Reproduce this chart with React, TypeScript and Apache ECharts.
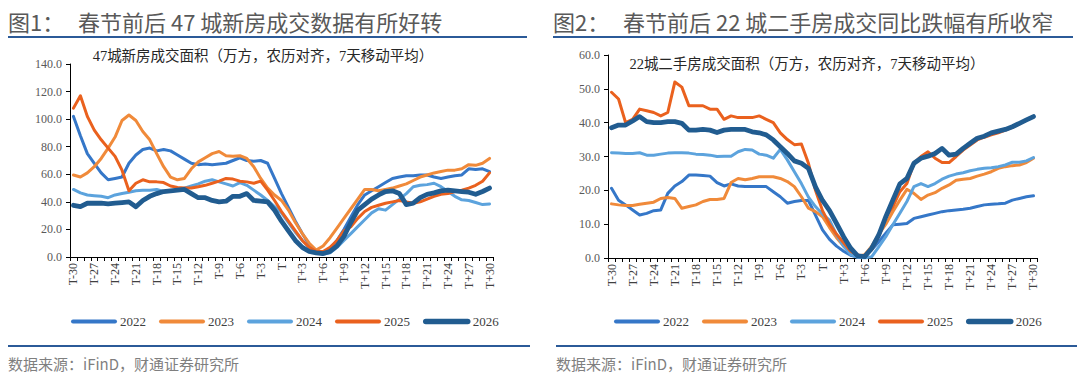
import React, { useEffect, useRef } from "react";
import * as echarts from "echarts";

const categories = [
  "T-30","T-29","T-28","T-27","T-26","T-25","T-24","T-23","T-22","T-21",
  "T-20","T-19","T-18","T-17","T-16","T-15","T-14","T-13","T-12","T-11",
  "T-10","T-9","T-8","T-7","T-6","T-5","T-4","T-3","T-2","T-1",
  "T","T+1","T+2","T+3","T+4","T+5","T+6","T+7","T+8","T+9",
  "T+10","T+11","T+12","T+13","T+14","T+15","T+16","T+17","T+18","T+19",
  "T+20","T+21","T+22","T+23","T+24","T+25","T+26","T+27","T+28","T+29","T+30",
];

const years = ["2022", "2023", "2024", "2025", "2026"];
const colors = ["#3577C8", "#F08A3A", "#5CA3DD", "#EA611E", "#215C90"];
const widths = [3, 3, 3, 3, 4.8];

// Left: 47 cities new house transaction area
const new2022 = [102,88,75,68,61,56,57,58,68,74,78,79,77,78,77,74,71,68,67,67.5,67,67.5,68,70,72,70,69.5,70,68,57,46,36,26,17,9,4,3,6,12,20,29,38,45,48,51,54,57,58,59,59,59.5,59.5,58,57,58,59,59.5,64,63.5,64,62];
const new2023 = [59.5,58,61,65.5,71.5,79,87,99,103,99,91,85,75,65.5,58,56,57,64,69,72,75,76.5,73.5,73,73.5,71.5,65.5,57,50,45,41,34,25,17,10,5,8,14,21,28,35,42,49,49,48,49,50,51.5,53,55.5,58,59.5,61,62,63,63,64,67,66.5,68,71.5];
const new2024 = [49,46.5,45,44.5,44,43,45,46,47,48,48.5,48.5,49,47.5,48,48.5,50,51.5,53,55,56,54.5,53,51.5,54,52,48.5,45,41,36.5,32,25,18,12,7,3.5,2,3,7,12,17,22,27,32,35,34,38,42,46,51,52,52.5,53.5,51,47.5,44,41.5,41,39.5,38,38.5];
const new2025 = [108,117,102,92,85,79,73,63,48,53.5,56,54.5,54.5,54,51.5,50.5,50,50,51,52,53.5,55,57,56.5,55,54.5,53.5,55,48.5,41,33,26,19,12,7,4,4,7,12,19,22,28,33,36,37.5,39,40,41,40,39,40,42,44,45.5,46,47.5,48.5,50,52,55,61];
const new2026 = [37.5,36.5,39,39,39,38.5,39,39.5,40,36.5,41,44,46,47.5,48,48.5,49,46,43,43,41,40,40.5,44,44,46,41,40.5,40,34,26,19,12,7,4,3,2.5,4,8,15,25,34,38,42,45,47.5,48,46,38,39,43,45.5,46.5,48,48.5,48,47.5,47,45.5,47.5,50];

// Right: 22 cities second-hand house transaction area
const used2022 = [20.6,17.1,15.7,14.2,12.7,13.2,14,14.2,19.1,21.3,22.6,24.5,24.5,24.4,24.2,22.3,21.3,21.9,21.3,21.1,21.1,21.1,21.1,19.6,18.1,16.2,16.7,17,17,12.7,8.3,5.5,3.5,2,0.8,0.3,0.5,2.4,4.8,7.3,9.8,10,10.2,11.7,12.2,12.7,13.2,13.7,14,14.2,14.4,14.7,15.2,15.7,15.9,16,16.2,17.1,17.6,18.1,18.4];
const used2023 = [16,15.7,15.5,15.5,15.9,16.2,16.5,17.6,17.9,17.6,14.7,15.2,15.7,16.7,17.3,17.3,17.6,22.3,23.5,23.1,23.5,24,24,24,23.5,22.6,21.1,18.1,14.7,13.7,12.2,9,6,3.5,1.5,0.5,1,3.5,7,10,13.7,17.1,20.3,19.1,17.3,18.6,19.3,20.6,21.6,23,23.3,23.5,24.2,24.8,25.5,26.5,27,27.3,27.5,28.2,29.5];
const used2024 = [31.1,31,30.9,30.9,31.1,30.4,30.4,30.7,31,31.1,31.1,31,30.7,30.6,30.4,30,30.1,30.1,31.4,32.1,31.9,30.7,30.4,29.5,32.1,29,25.5,22,18,15.2,13,11.2,6.8,3.5,1,0.2,0,0.4,3.3,6.3,9.8,13.2,16.7,21.1,22,21.1,22,23.3,24.2,24.8,25.2,25.8,26.2,26.5,26.7,27,27.5,28.3,28.3,28.7,29.7];
const used2025 = [49,47,40,41,44,43.5,43,42,43,52,50.5,45,45,45,44,44,41,42,41.5,41.5,41.5,42,41,40,37,35,33.5,33.7,28,20,14,10,7,4.5,2,0.9,0.5,2.5,6.5,12,15.2,19.6,22,28,30,31.4,29.5,28.2,28.2,30,31.9,33.4,34.9,35.7,36.4,37,37.8,38.6,39.6,40.8,41.8];
const used2026 = [38.5,39.3,39.3,40.5,41.8,40.3,40,40,40.3,40.3,39.8,37.8,37.8,38,37.8,37.1,37.8,38,38,38,37.3,37,36.4,34.9,32.9,30.9,28.7,28,26.5,21,17,14,10.2,6.3,2.9,0.6,0.4,2.9,6.8,12.2,17.1,21.9,23.5,28,29.5,30.1,30.9,32.4,30.4,30.7,32.4,33.9,35.4,36,37,37.5,38,38.8,39.8,40.8,41.8];

const leftSeries = [new2022, new2023, new2024, new2025, new2026];
const rightSeries = [used2022, used2023, used2024, used2025, used2026];

const leftTicks = [0, 20, 40, 60, 80, 100, 120, 140];
const rightTicks = [0, 10, 20, 30, 40, 50, 60];

const titleLeftA = "图1：";
const titleLeftB = "春节前后 47 城新房成交数据有所好转";
const titleRightA = "图2：";
const titleRightB = "春节前后 22 城二手房成交同比跌幅有所收窄";
const subLeft = "47城新房成交面积（万方，农历对齐，7天移动平均）";
const subRight = "22城二手房成交面积（万方，农历对齐，7天移动平均）";
const source = "数据来源：iFinD，财通证券研究所";

const SERIF = '"Liberation Serif", "Noto Sans CJK SC", serif';
const SANS = '"Noto Sans CJK SC", sans-serif';

function makeXAxis(gridIndex: number) {
  return {
    type: "category",
    gridIndex,
    data: categories,
    boundaryGap: true,
    axisLine: { show: true, lineStyle: { color: "#000", width: 1 } },
    axisTick: { show: true, interval: 0, length: 4, lineStyle: { color: "#000" } },
    axisLabel: {
      interval: 2,
      rotate: 90,
      fontSize: 12,
      color: "#404040",
      margin: 6,
      fontFamily: SERIF,
    },
    splitLine: { show: false },
  };
}

function makeYAxis(gridIndex: number, ticks: number[]) {
  return {
    type: "value",
    gridIndex,
    min: ticks[0],
    max: ticks[ticks.length - 1],
    interval: ticks[1] - ticks[0],
    axisLine: { show: true, lineStyle: { color: "#000", width: 1 } },
    axisTick: { show: true, length: 4, lineStyle: { color: "#000" } },
    axisLabel: {
      formatter: (v: number) => v.toFixed(1),
      fontSize: 12,
      color: "#595959",
      margin: 8,
      fontFamily: SERIF,
    },
    splitLine: { show: false },
  };
}

function makeLegend(left: number) {
  return {
    left,
    top: 310,
    itemWidth: 42,
    itemHeight: 8,
    itemGap: 13,
    textStyle: { fontSize: 13, color: "#404040", fontFamily: SERIF },
    data: years.map((y, i) => ({
      name: y,
      itemStyle: { opacity: 0 },
      lineStyle: { width: i === 4 ? 5.5 : 4, cap: "round" },
    })),
  };
}

export default function App() {
  const ref = useRef<HTMLDivElement>(null);

  useEffect(() => {
    document.body.style.margin = "0";
    if (!ref.current) return;
    const chart = echarts.init(ref.current, undefined, { renderer: "svg" });

    const series: any[] = [];
    [leftSeries, rightSeries].forEach((group, gi) => {
      group.forEach((vals, i) => {
        series.push({
          name: years[i],
          type: "line",
          xAxisIndex: gi,
          yAxisIndex: gi,
          data: vals,
          showSymbol: false,
          symbol: "none",
          smooth: false,
          lineStyle: { color: colors[i], width: widths[i], cap: "round", join: "round" },
          itemStyle: { color: colors[i] },
          z: 2 + i,
        });
      });
    });

    const option: any = {
      animation: false,
      color: colors,
      grid: [
        { left: 70, top: 64, width: 423, height: 193 },
        { left: 608, top: 55, width: 429, height: 203 },
      ],
      xAxis: [makeXAxis(0), makeXAxis(1)],
      yAxis: [makeYAxis(0, leftTicks), makeYAxis(1, rightTicks)],
      legend: [makeLegend(66), makeLegend(609)],
      series,
      graphic: [
        { type: "text", x: 8, y: 21, style: { text: titleLeftA, font: `22px ${SANS}`, fill: "#595959", verticalAlign: "middle" } },
        { type: "text", x: 78, y: 21, style: { text: titleLeftB, font: `22px ${SANS}`, fill: "#595959", verticalAlign: "middle" } },
        { type: "text", x: 553, y: 21, style: { text: titleRightA, font: `22px ${SANS}`, fill: "#595959", verticalAlign: "middle" } },
        { type: "text", x: 623, y: 21, style: { text: titleRightB, font: `22px ${SANS}`, fill: "#595959", verticalAlign: "middle" } },
        { type: "line", shape: { x1: 8, y1: 37, x2: 527, y2: 37 }, style: { stroke: "#2B5A98", lineWidth: 2 } },
        { type: "line", shape: { x1: 553, y1: 37, x2: 1073, y2: 37 }, style: { stroke: "#2B5A98", lineWidth: 2 } },
        { type: "text", x: 263, y: 56, style: { text: subLeft, font: `14.5px ${SERIF}`, fill: "#262626", align: "center", verticalAlign: "middle" } },
        { type: "text", x: 807, y: 64, style: { text: subRight, font: `14.5px ${SERIF}`, fill: "#262626", align: "center", verticalAlign: "middle" } },
        { type: "line", shape: { x1: 8, y1: 346, x2: 530, y2: 346 }, style: { stroke: "#2B5A98", lineWidth: 2 } },
        { type: "line", shape: { x1: 556, y1: 346, x2: 1077, y2: 346 }, style: { stroke: "#2B5A98", lineWidth: 2 } },
        { type: "text", x: 8, y: 363, style: { text: source, font: `15px ${SANS}`, fill: "#7F7F7F", verticalAlign: "middle" } },
        { type: "text", x: 556, y: 363, style: { text: source, font: `15px ${SANS}`, fill: "#7F7F7F", verticalAlign: "middle" } },
      ],
    };

    chart.setOption(option);
    return () => chart.dispose();
  }, []);

  return <div ref={ref} style={{ width: 1080, height: 381 }} />;
}
